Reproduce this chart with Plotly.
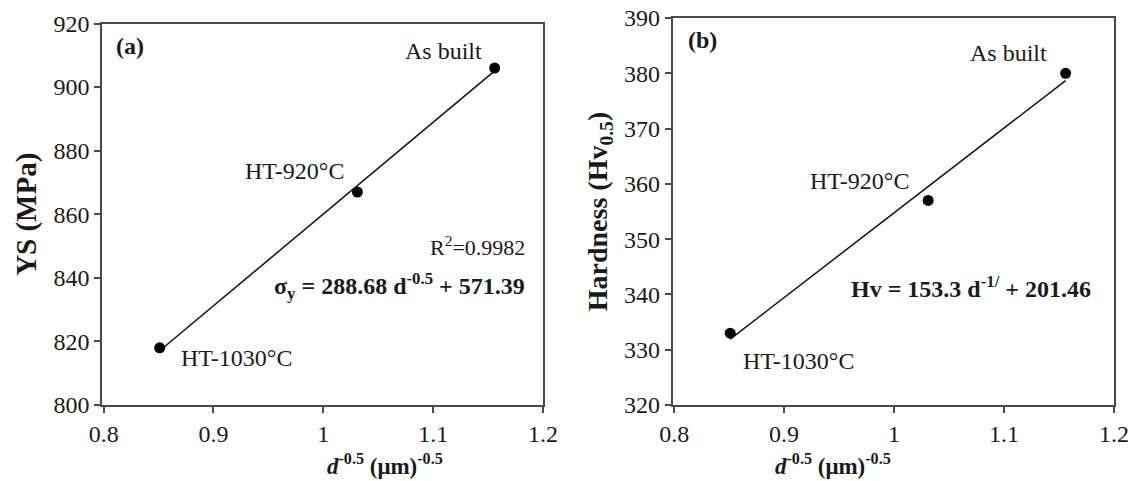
import plotly.graph_objects as go

# ---- data ----
d_inv_sqrt = [0.851, 1.031, 1.156]
labels = ["HT-1030°C", "HT-920°C", "As built"]
ys_mpa = [818, 867, 906]
hardness = [333, 357, 380]

# linear fits printed on the chart
fit_a = (288.68, 571.39)
fit_b = (153.3, 201.46)

x_ticks = [0.8, 0.9, 1.0, 1.1, 1.2]
x_tick_text = ["0.8", "0.9", "1", "1.1", "1.2"]
ya_ticks = [800, 820, 840, 860, 880, 900, 920]
yb_ticks = [320, 330, 340, 350, 360, 370, 380, 390]

FONT = "Liberation Serif, Times New Roman, serif"
TXT = "#1a1a1a"
LINE = "#4a4a4a"

fig = go.Figure()

x_fit = [min(d_inv_sqrt), max(d_inv_sqrt)]

# panel (a)
fig.add_trace(go.Scatter(x=x_fit, y=[fit_a[0] * v + fit_a[1] for v in x_fit],
                         mode="lines", line=dict(color="#111", width=1.5),
                         xaxis="x", yaxis="y", showlegend=False, hoverinfo="skip"))
fig.add_trace(go.Scatter(x=d_inv_sqrt, y=ys_mpa, mode="markers",
                         marker=dict(color="#000", size=11),
                         xaxis="x", yaxis="y", showlegend=False))
# panel (b)
fig.add_trace(go.Scatter(x=x_fit, y=[fit_b[0] * v + fit_b[1] for v in x_fit],
                         mode="lines", line=dict(color="#111", width=1.5),
                         xaxis="x2", yaxis="y2", showlegend=False, hoverinfo="skip"))
fig.add_trace(go.Scatter(x=d_inv_sqrt, y=hardness, mode="markers",
                         marker=dict(color="#000", size=11),
                         xaxis="x2", yaxis="y2", showlegend=False))

common_axis = dict(showline=True, linecolor=LINE, linewidth=1.5, mirror=True,
                   ticks="outside", ticklen=6, tickwidth=1.5, tickcolor=LINE,
                   showgrid=False, zeroline=False, automargin=False,
                   tickfont=dict(family=FONT, size=24, color=TXT))

xtitle = "<b><i>d</i><sup>-0.5</sup> (μm)<sup>-0.5</sup></b>"

fig.update_layout(
    width=1137, height=481,
    margin=dict(l=0, r=0, t=0, b=0, autoexpand=False),
    paper_bgcolor="white", plot_bgcolor="white",
    font=dict(family=FONT, color=TXT),
    xaxis=dict(domain=[102 / 1137, 543 / 1137], range=[0.7985, 1.2],
               tickvals=x_ticks, ticktext=x_tick_text, anchor="y",
               **common_axis),
    yaxis=dict(domain=[1 - 405 / 481, 1 - 23.5 / 481], range=[800, 920],
               tickvals=ya_ticks, anchor="x",
               title=dict(text="<b>YS (MPa)</b>", font=dict(family=FONT, size=29, color=TXT), standoff=8),
               **common_axis),
    xaxis2=dict(domain=[672.5 / 1137, 1114 / 1137], range=[0.7985, 1.2],
                tickvals=x_ticks, ticktext=x_tick_text, anchor="y2",
                **common_axis),
    yaxis2=dict(domain=[1 - 405 / 481, 1 - 18 / 481], range=[320, 390],
                tickvals=yb_ticks, anchor="x2",
                title=dict(text="<b>Hardness (Hv<sub>0.5</sub>)</b>", font=dict(family=FONT, size=28, color=TXT), standoff=8),
                **common_axis),
)

ann_font = dict(family=FONT, size=24, color=TXT)
title_font = dict(family=FONT, size=23, color=TXT)
annotations = [
    # x-axis titles
    dict(x=325 / 1137, y=0, xref="paper", yref="paper", yanchor="bottom", text=xtitle,
         showarrow=False, font=title_font),
    dict(x=893 / 1137, y=0, xref="paper", yref="paper", yanchor="bottom", text=xtitle,
         showarrow=False, font=title_font),
    # panel (a)
    dict(x=0.8236, y=913, xref="x", yref="y", text="<b>(a)</b>", showarrow=False, font=ann_font),
    dict(x=1.109, y=911.2, xref="x", yref="y", text=labels[2], showarrow=False, font=ann_font),
    dict(x=0.974, y=873.5, xref="x", yref="y", text=labels[1], showarrow=False, font=ann_font),
    dict(x=0.9208, y=814.7, xref="x", yref="y", text=labels[0], showarrow=False, font=ann_font),
    dict(x=1.185, y=850, xref="x", yref="y", text="R<sup>2</sup>=0.9982", showarrow=False,
         xanchor="right", font=dict(family=FONT, size=22, color=TXT)),
    dict(x=1.185, y=837.5, xref="x", yref="y",
         text="<b>σ<sub>y</sub> = 288.68 d<sup>-0.5</sup> + 571.39</b>", showarrow=False,
         xanchor="right", font=ann_font),
    # panel (b)
    dict(x=0.8256, y=386, xref="x2", yref="y2", text="<b>(b)</b>", showarrow=False, font=ann_font),
    dict(x=1.1036, y=383.7, xref="x2", yref="y2", text=labels[2], showarrow=False, font=ann_font),
    dict(x=0.969, y=360.5, xref="x2", yref="y2", text=labels[1], showarrow=False, font=ann_font),
    dict(x=0.9128, y=328, xref="x2", yref="y2", text=labels[0], showarrow=False, font=ann_font),
    dict(x=1.1805, y=341.3, xref="x2", yref="y2",
         text="<b>Hv = 153.3 d<sup>-1/</sup> + 201.46</b>", showarrow=False,
         xanchor="right", font=ann_font),
]
fig.update_layout(annotations=annotations)

fig.write_html("out.html")
